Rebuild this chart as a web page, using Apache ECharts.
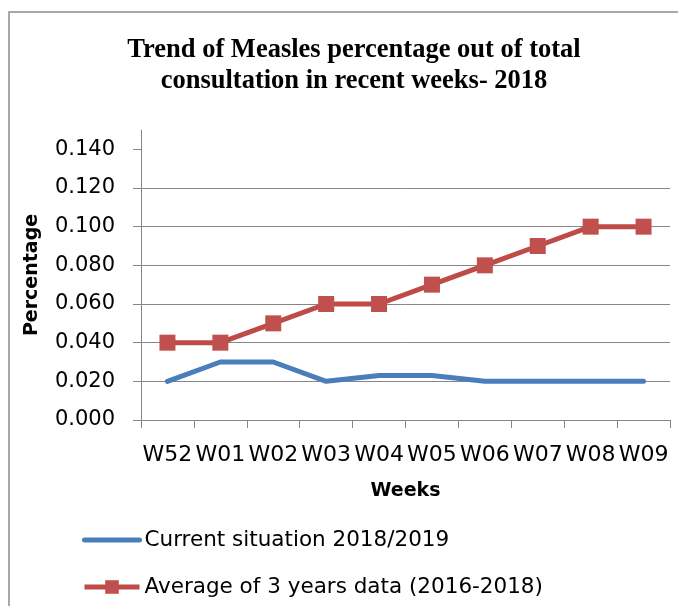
<!DOCTYPE html>
<html>
<head>
<meta charset="utf-8">
<script src="https://cdn.jsdelivr.net/npm/echarts@6/dist/echarts.min.js"></script>
<style>
    html, body { margin: 0; padding: 0; background: #fff; }
    #chart { width: 678px; height: 606px; }
</style>
</head>
<body>
<div id="chart"></div>
<script>
// 周次
const weeks = ['W52', 'W01', 'W02', 'W03', 'W04', 'W05', 'W06', 'W07', 'W08', 'W09'];
// 当前情况 2018/2019
const currentValues = [0.020, 0.030, 0.030, 0.020, 0.023, 0.023, 0.020, 0.020, 0.020, 0.020];
// 三年平均 (2016-2018)
const averageValues = [0.040, 0.040, 0.050, 0.060, 0.060, 0.070, 0.080, 0.090, 0.100, 0.100];
// Y轴刻度
const yTicks = [0, 0.02, 0.04, 0.06, 0.08, 0.10, 0.12, 0.14];

const seriesNames = ['Current situation 2018/2019', 'Average of 3 years data (2016-2018)'];
const sansFont = '"DejaVu Sans", sans-serif';

const chart = echarts.init(document.getElementById('chart'));

const option = {
    backgroundColor: '#fff',
    animation: false,
    title: {
        text: 'Trend of Measles percentage out of total\nconsultation in recent weeks- 2018',
        left: 349,
        top: 30,
        textAlign: 'center',
        textStyle: {
            fontFamily: '"Liberation Serif", "Times New Roman", serif',
            fontWeight: 'bold',
            fontSize: 26.5,
            lineHeight: 31,
            color: '#000'
        }
    },
    // 外框
    graphic: [{
        type: 'rect',
        shape: { x: 9, y: 12, width: 720, height: 620 },
        style: { fill: 'none', stroke: '#8c8c8c', lineWidth: 1.5 },
        silent: true
    }],
    legend: {
        orient: 'vertical',
        left: 82,
        top: 529,
        padding: 0,
        itemWidth: 55,
        itemHeight: 17,
        itemGap: 25,
        lineStyle: { width: 'inherit' },
        data: [
            { name: seriesNames[0], itemStyle: { opacity: 0 } },
            { name: seriesNames[1] }
        ],
        textStyle: { fontFamily: sansFont, fontSize: 21.5, color: '#000' }
    },
    grid: {
        left: 141,
        right: 8,
        top: 130,
        bottom: 186
    },
    xAxis: {
        type: 'category',
        data: weeks,
        boundaryGap: true,
        name: 'Weeks',
        nameLocation: 'middle',
        nameGap: 62,
        nameTextStyle: { fontFamily: sansFont, fontSize: 19, fontWeight: 'bold', color: '#000' },
        axisLine: { lineStyle: { color: '#868686', width: 1 } },
        axisTick: { show: true, length: 8, lineStyle: { color: '#868686' } },
        axisLabel: {
            interval: 0,
            margin: 24,
            fontFamily: sansFont,
            fontSize: 22,
            color: '#000'
        }
    },
    yAxis: {
        type: 'value',
        min: 0,
        max: 0.15,
        interval: 0.02,
        name: 'Percentage',
        nameLocation: 'middle',
        nameGap: 99,
        nameTextStyle: { fontFamily: sansFont, fontSize: 19, fontWeight: 'bold', color: '#000' },
        axisLine: { show: true, lineStyle: { color: '#868686', width: 1 } },
        axisTick: { show: true, length: 8, inside: false, customValues: yTicks, lineStyle: { color: '#868686' } },
        axisLabel: {
            customValues: yTicks,
            margin: 26,
            fontFamily: sansFont,
            fontSize: 21,
            color: '#000',
            formatter: function(v) { return v.toFixed(3); }
        },
        splitLine: { show: true, showMaxLine: false, lineStyle: { color: '#868686', width: 1 } }
    },
    series: [
        {
            name: seriesNames[0],
            type: 'line',
            data: currentValues,
            symbol: 'none',
            lineStyle: { color: '#4a7ebb', width: 5, cap: 'round' },
            itemStyle: { color: '#4a7ebb' }
        },
        {
            name: seriesNames[1],
            type: 'line',
            data: averageValues,
            symbol: 'rect',
            symbolSize: 16,
            lineStyle: { color: '#be4b48', width: 5 },
            itemStyle: { color: '#c0504d' }
        }
    ]
};

chart.setOption(option);
</script>
</body>
</html>
